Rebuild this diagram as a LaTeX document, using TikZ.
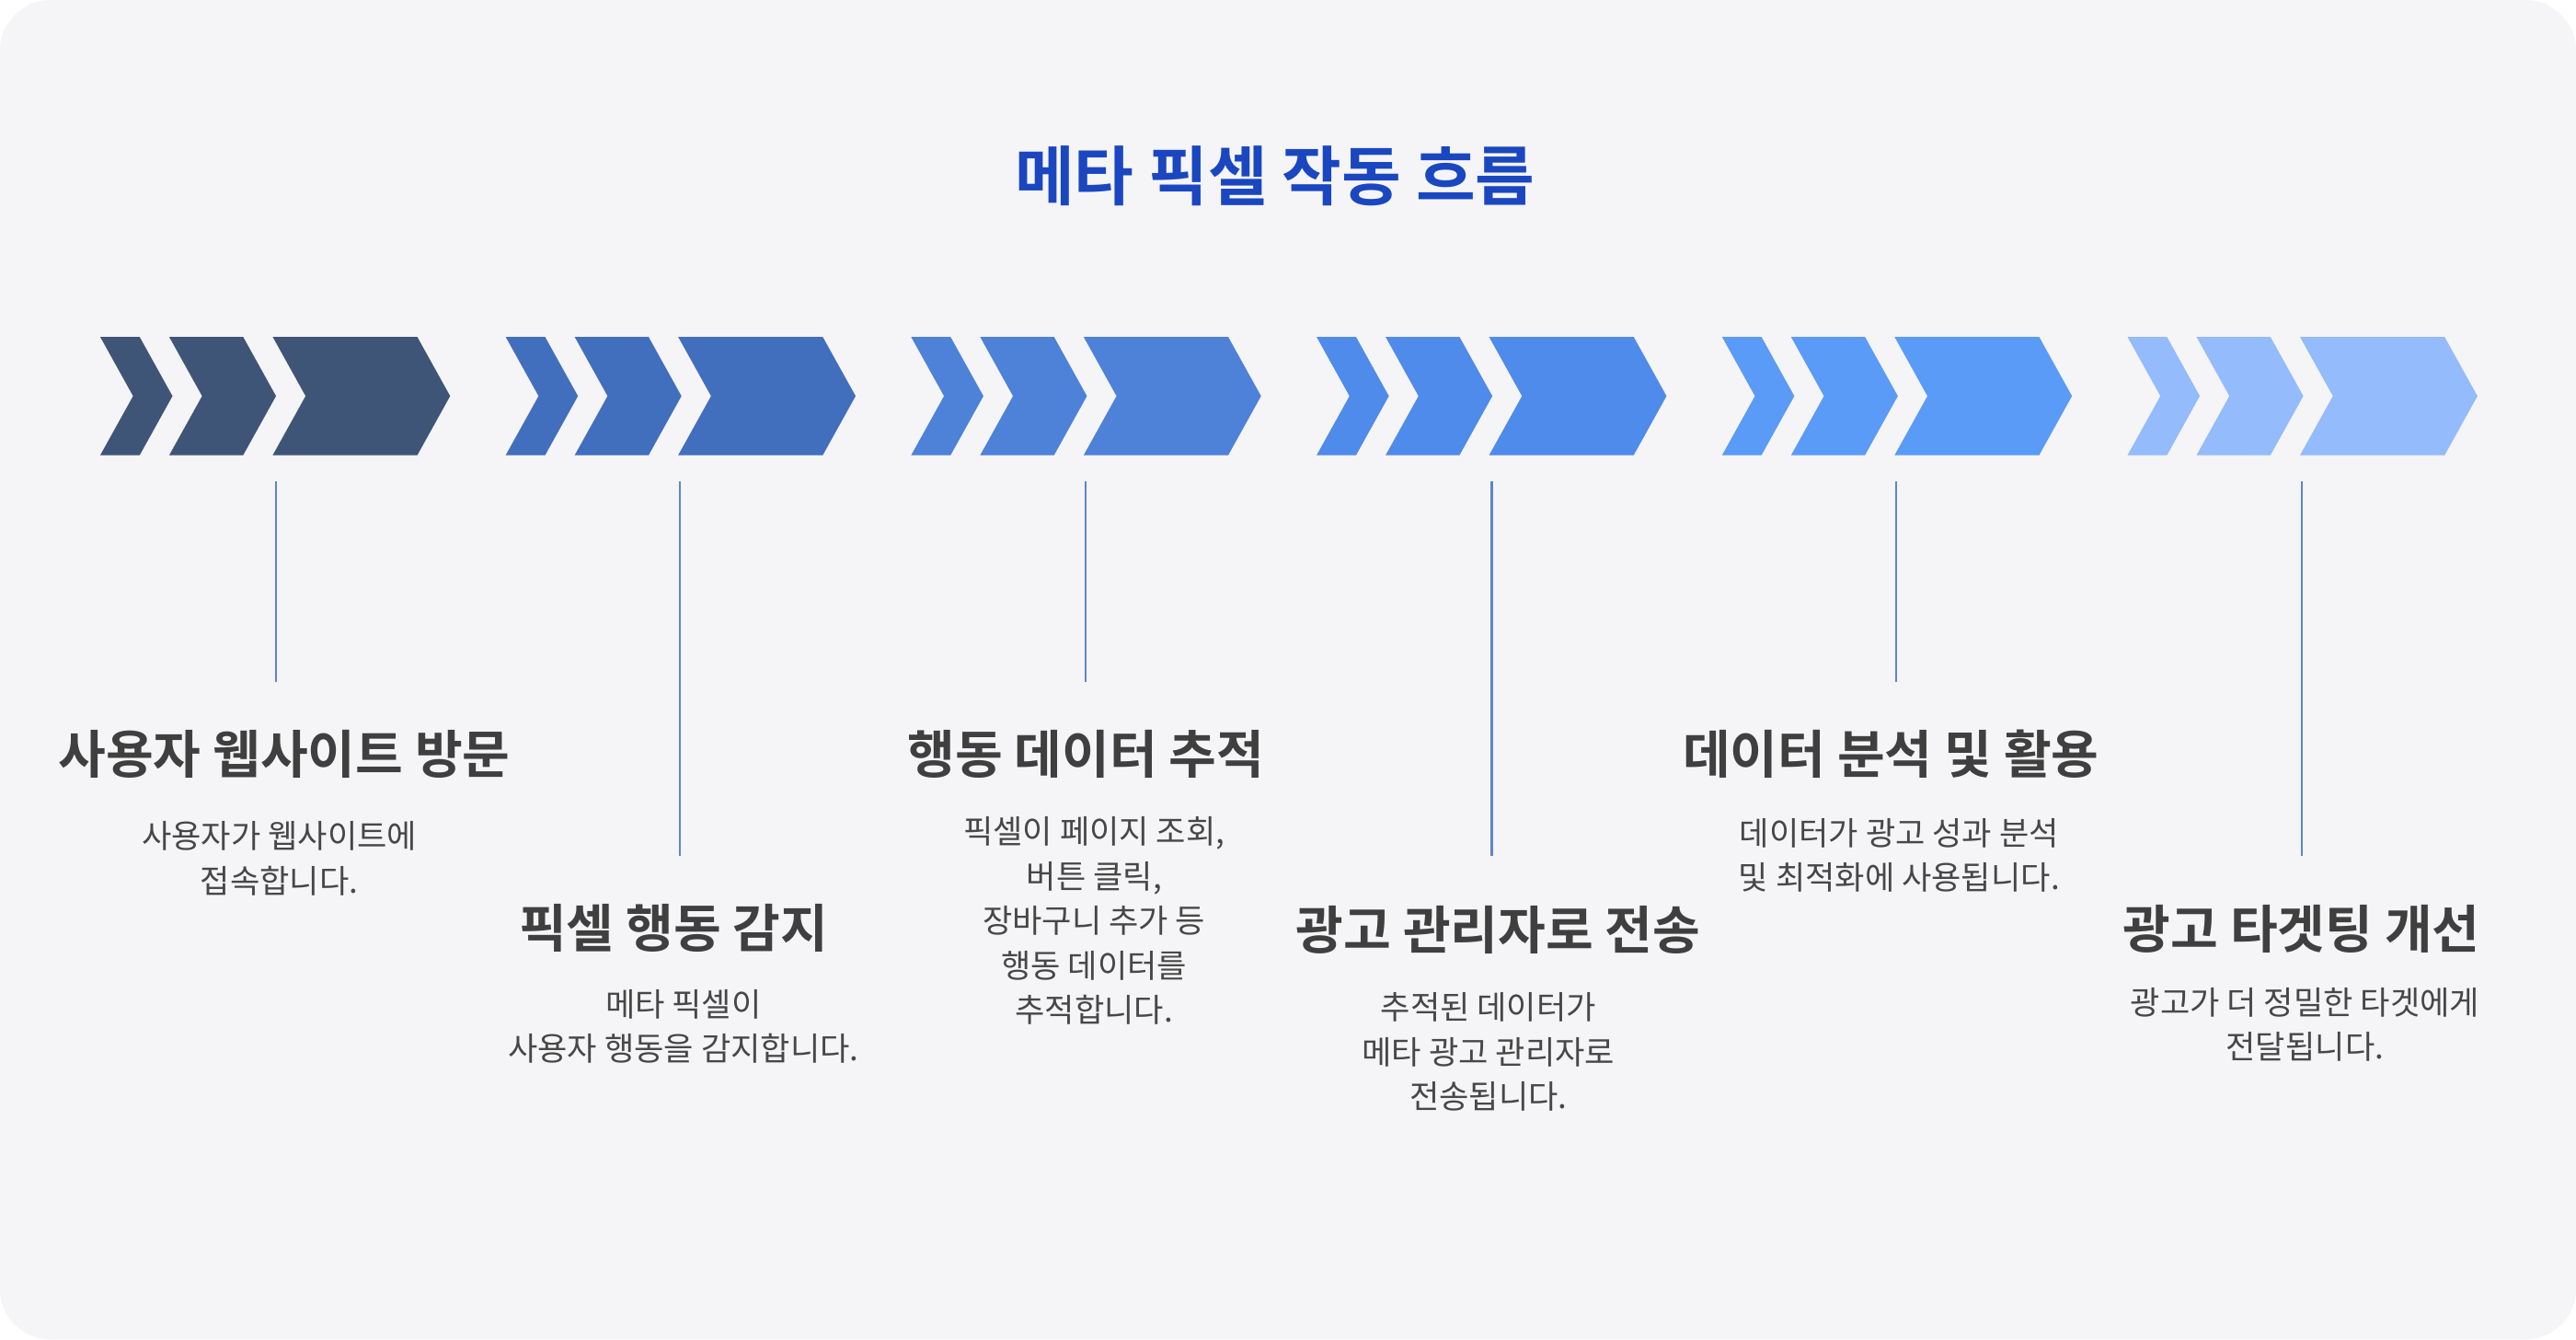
\documentclass[tikz,border=0pt]{standalone}
\usepackage{fontspec}
\setmainfont{Noto Sans CJK KR}
\newfontfamily\boldkr{Noto Sans CJK KR Bold}
\definecolor{bgpanel}{HTML}{F5F4F6}
\definecolor{titleblue}{HTML}{1A47C0}
\definecolor{headgray}{HTML}{3F3F3F}
\definecolor{descgray}{HTML}{474747}
\definecolor{linkblue}{HTML}{5A86D2}
\definecolor{stepa}{HTML}{3E5578}
\definecolor{stepb}{HTML}{416FBE}
\definecolor{stepc}{HTML}{4D82D8}
\definecolor{stepd}{HTML}{4F8BEB}
\definecolor{stepe}{HTML}{5A9BF8}
\definecolor{stepf}{HTML}{94BBFB}
\tikzset{
	heading/.style={font=\boldkr\fontsize{16}{19}\selectfont, text=headgray, anchor=center},
	desc/.style={font=\fontsize{10}{13.8}\selectfont, text=descgray, align=center, anchor=north},
	link/.style={draw=linkblue, line width=0.6pt}
}
\begin{document}
\begin{tikzpicture}[x=0.017857cm, y=-0.017857cm]
	\useasboundingbox (0,0) rectangle (1568,815);
	\fill[white] (0,0) rectangle (1568,815);
	\fill[bgpanel, rounded corners=0.55cm] (0,0) rectangle (1568,815);
	
	\node[font=\boldkr\fontsize{20}{24}\selectfont, text=titleblue] (title) at (776,107) {메타 픽셀 작동 흐름};
	
	% chevrons
	\foreach \g/\col in {0/stepa, 1/stepb, 2/stepc, 3/stepd, 4/stepe, 5/stepf} {
		\begin{scope}[xshift={\g*246.8*0.017857cm}]
			\fill[\col] (61,205) -- (85,205) -- (105,241) -- (85,277) -- (61,277) -- (81,241) -- cycle;
			\fill[\col] (103,205) -- (148,205) -- (168,241) -- (148,277) -- (103,277) -- (123,241) -- cycle;
			\fill[\col] (166,205) -- (254,205) -- (274,241) -- (254,277) -- (166,277) -- (186,241) -- cycle;
		\end{scope}
	}
	
	% connectors
	\coordinate (t1) at (168,293); \coordinate (b1) at (168,415);
	\coordinate (t2) at (414,293); \coordinate (b2) at (414,521);
	\coordinate (t3) at (661,293); \coordinate (b3) at (661,415);
	\coordinate (t4) at (908,293); \coordinate (b4) at (908,521);
	\coordinate (t5) at (1154,293); \coordinate (b5) at (1154,415);
	\coordinate (t6) at (1401,293); \coordinate (b6) at (1401,521);
	\foreach \i in {1,...,6} \draw[link] (t\i) -- (b\i);
	
	% steps
	\node[heading] (h1) at (173,459) {사용자 웹사이트 방문};
	\node[desc] (d1) at (170,493) {사용자가 웹사이트에\\접속합니다.};
	\node[heading] (h2) at (410,565) {픽셀 행동 감지};
	\node[desc] (d2) at (416,595) {메타 픽셀이\\사용자 행동을 감지합니다.};
	\node[heading] (h3) at (661,459) {행동 데이터 추적};
	\node[desc] (d3) at (666,490) {픽셀이 페이지 조회,\\버튼 클릭,\\장바구니 추가 등\\행동 데이터를\\추적합니다.};
	\node[heading] (h4) at (912,566) {광고 관리자로 전송};
	\node[desc] (d4) at (906,597) {추적된 데이터가\\메타 광고 관리자로\\전송됩니다.};
	\node[heading] (h5) at (1151,459) {데이터 분석 및 활용};
	\node[desc] (d5) at (1156,491) {데이터가 광고 성과 분석\\및 최적화에 사용됩니다.};
	\node[heading] (h6) at (1401,565) {광고 타겟팅 개선};
	\node[desc] (d6) at (1403,594) {광고가 더 정밀한 타겟에게\\전달됩니다.};
\end{tikzpicture}
\end{document}
